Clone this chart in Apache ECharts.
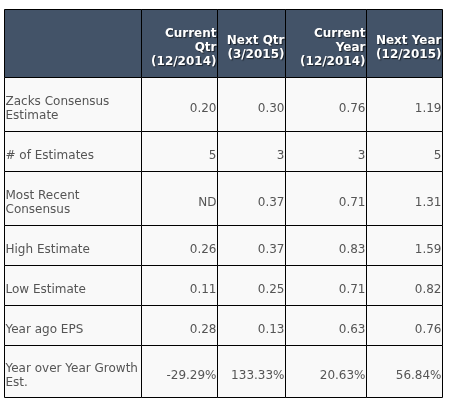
<!DOCTYPE html>
<html><head><meta charset="utf-8">
<script src="https://cdn.jsdelivr.net/npm/echarts@6/dist/echarts.min.js"></script>
<style>html,body{margin:0;padding:0;background:#fff}#c{width:451px;height:404px}</style>
</head><body><div id="c"></div>
<script>
const headers = ['Current\nQtr\n(12/2014)', 'Next Qtr\n(3/2015)', 'Current\nYear\n(12/2014)', 'Next Year\n(12/2015)'];
const rowLabels = ['Zacks Consensus\nEstimate', '# of Estimates', 'Most Recent\nConsensus', 'High Estimate', 'Low Estimate', 'Year ago EPS', 'Year over Year Growth\nEst.'];
const currentQtr = ['0.20', '5', 'ND', '0.26', '0.11', '0.28', '-29.29%'];
const nextQtr = ['0.30', '3', '0.37', '0.37', '0.25', '0.13', '133.33%'];
const currentYear = ['0.76', '3', '0.71', '0.83', '0.71', '0.63', '20.63%'];
const nextYear = ['1.19', '5', '1.31', '1.59', '0.82', '0.76', '56.84%'];

// layout (cell edges in axis units = px)
const colEdges = [0, 137, 213, 281, 362, 438];
const rowEdges = [0, 68, 122, 162, 216, 256, 296, 336, 388];

const columns = [currentQtr, nextQtr, currentYear, nextYear];
const cells = [];
const texts = [];
cells.push([0, 0]); texts.push('');
headers.forEach((h, i) => { cells.push([i + 1, 0]); texts.push(h); });
rowLabels.forEach((lab, r) => {
  cells.push([0, r + 1]); texts.push(lab);
  columns.forEach((col, c) => { cells.push([c + 1, r + 1]); texts.push(col[r]); });
});

function renderItem(params, api) {
  const c = api.value(0), r = api.value(1);
  const txt = texts[params.dataIndex];
  const p0 = api.coord([colEdges[c], rowEdges[r]]);
  const p1 = api.coord([colEdges[c + 1], rowEdges[r + 1]]);
  const x0 = Math.round(p0[0]) + 0.5, y0 = Math.round(p0[1]) + 0.5;
  const x1 = Math.round(p1[0]) + 0.5, y1 = Math.round(p1[1]) + 0.5;
  const head = r === 0;
  const labelCol = c === 0;
  const children = [{
    type: 'rect',
    shape: { x: x0, y: y0, width: x1 - x0, height: y1 - y0 },
    style: { fill: head ? '#435368' : '#f9f9f9', stroke: '#000', lineWidth: 1 }
  }];
  if (txt) {
    children.push({
      type: 'text',
      z2: 10,
      style: {
        text: txt,
        x: labelCol ? x0 + 1 : x1 - 1,
        y: (y0 + y1) / 2 + (head ? 4.5 : 4.5),
        align: labelCol ? 'left' : 'right',
        verticalAlign: 'middle',
        font: head ? 'bold 12px "DejaVu Sans"' : '12px "DejaVu Sans"',
        lineHeight: 14,
        fill: head ? '#ffffff' : '#555555',
        textShadowColor: head ? 'rgba(0,0,0,0.6)' : 'transparent',
        textShadowBlur: head ? 1 : 0,
        textShadowOffsetX: head ? 1 : 0,
        textShadowOffsetY: head ? 1 : 0
      }
    });
  }
  return { type: 'group', children };
}

const chart = echarts.init(document.getElementById('c'), null, { renderer: 'canvas' });
chart.setOption({
  animation: false,
  backgroundColor: '#ffffff',
  grid: { left: 4, top: 9, width: 438, height: 388 },
  xAxis: { type: 'value', min: 0, max: colEdges[colEdges.length - 1], show: false },
  yAxis: { type: 'value', min: 0, max: rowEdges[rowEdges.length - 1], inverse: true, show: false },
  series: [{
    type: 'custom',
    coordinateSystem: 'cartesian2d',
    renderItem: renderItem,
    encode: { x: 0, y: 1 },
    clip: false,
    data: cells
  }]
});
</script></body></html>
